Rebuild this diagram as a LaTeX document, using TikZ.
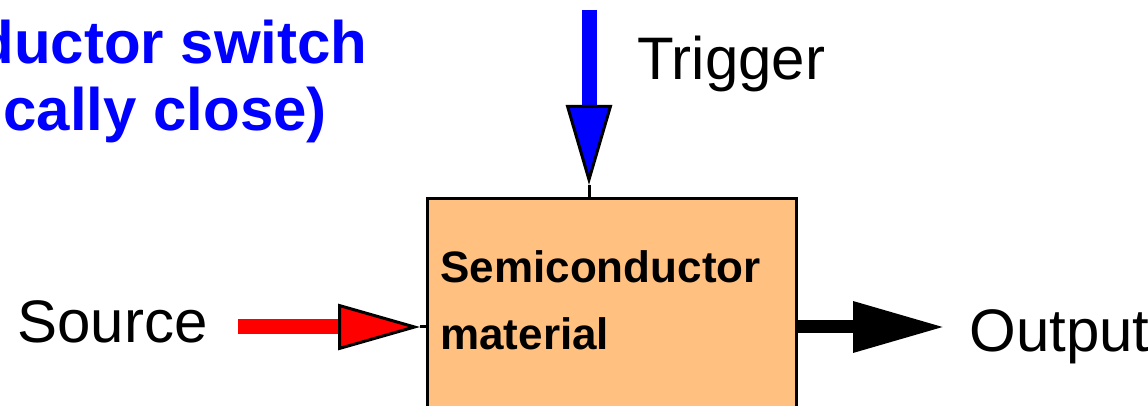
\documentclass[tikz,border=0pt]{standalone}
\usepackage{fontspec}
\setmainfont{Liberation Sans}
\usetikzlibrary{arrows.meta}
\definecolor{peach}{RGB}{255,192,128}

\begin{document}
\begin{tikzpicture}[
    x=0.5pt, y=-0.5pt,
    lbl/.style={font=\fontsize{30}{36}\selectfont, inner sep=0pt, anchor=base west},
    note/.style={lbl, font=\fontsize{30}{36}\selectfont\bfseries, text=blue},
    material/.style={draw, line width=1.5pt, fill=peach, minimum width=184.5pt,
                     minimum height=150pt, inner sep=0pt, anchor=north west},
    boxtext/.style={font=\fontsize{22}{33.5}\selectfont\bfseries, align=left,
                    inner sep=0pt, anchor=north west},
    stub/.style={line width=1.5pt},
    trigarrow/.style={line width=7.5pt, blue,
                      -{Triangle[length=40pt, width=23pt, line width=1.5pt, color=black, fill=blue]}},
    srcarrow/.style={line width=7.5pt, red,
                     -{Triangle[length=41pt, width=23pt, line width=1.5pt, color=black, fill=red]}},
    outarrow/.style={line width=6.5pt, black,
                     -{Triangle[length=46pt, width=24pt]}},
]
\useasboundingbox (0,0) rectangle (1148,406);
\clip (0,0) rectangle (1148,406);

% the material block and its name
\node[material] (box) at (425.5,197.5) {};
\node[boxtext] (matname) at (440,250) {Semiconductor\\material};

% labels
\node[note] (note1) at (-23,64) {ductor switch};
\node[note] (note2) at (3,131) {cally close)};
\node[lbl] (trig) at (637,80) {Trigger};
\node[lbl] (src) at (17,343) {Source};
\node[lbl] (out) at (969,352) {Output};

% arrow ends
\coordinate (trigtop) at (589,10);
\coordinate (trigtip) at (589,185);
\coordinate (srcstart) at (238,327);
\coordinate (srctip) at (420,327);
\coordinate (outtip) at (945,327);

\draw[trigarrow] (trigtop) -- (trigtip);
\draw[stub] (trigtip) -- (trigtip |- box.north);
\draw[srcarrow] (srcstart) -- (srctip);
\draw[stub] (srctip) -- (srctip -| box.west);
\draw[outarrow] (box.east |- outtip) -- (outtip);

\end{tikzpicture}
\end{document}
